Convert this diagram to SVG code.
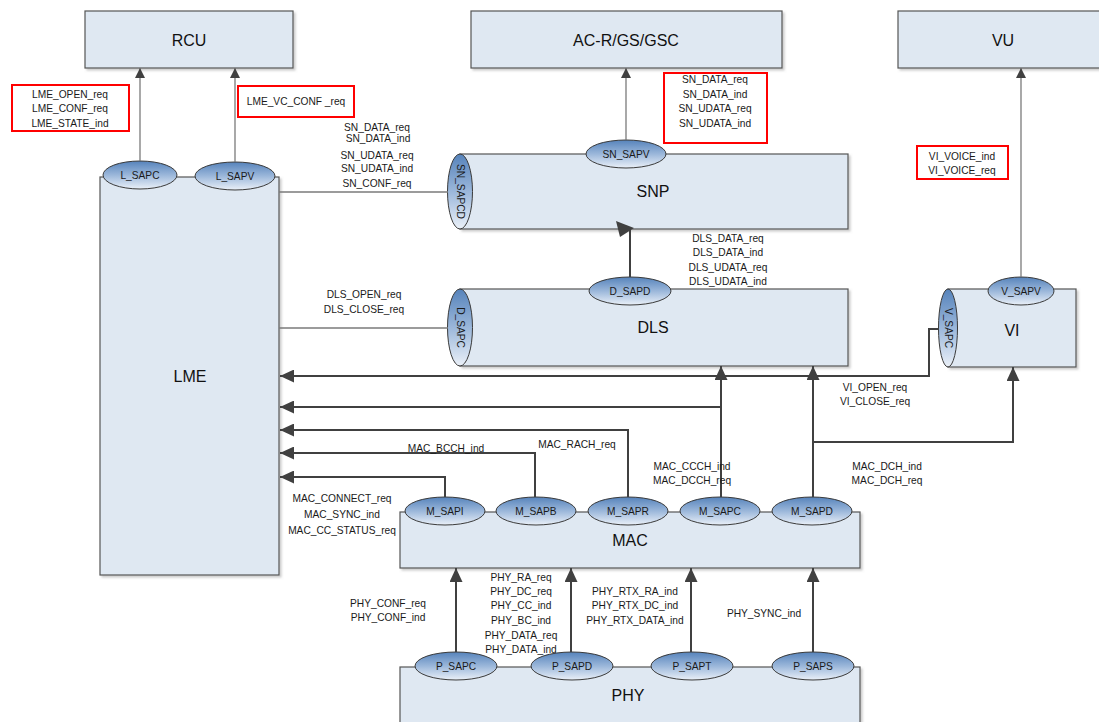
<svg xmlns="http://www.w3.org/2000/svg" width="1099" height="722" viewBox="0 0 1099 722">
<defs>
<style>
.box{fill:#dfe8f2;stroke:#555555;stroke-width:1.2;filter:url(#sh)}
.sap{fill:url(#eg);stroke:#3a3a3a;stroke-width:1}
.t{font-family:"Liberation Sans",Arial,sans-serif;font-size:10.2px;fill:#1a1a1a;text-anchor:middle}
.big{font-family:"Liberation Sans",Arial,sans-serif;font-size:16px;fill:#111;text-anchor:middle}
.red{fill:#fff;stroke:#ff0000;stroke-width:2}
.thin{fill:none;stroke:#7a7a7a;stroke-width:1.3}
.thick{fill:none;stroke:#404040;stroke-width:2}
</style>
<linearGradient id="eg" x1="0" y1="0" x2="0" y2="1">
<stop offset="0" stop-color="#5683bb"/>
<stop offset="0.5" stop-color="#9bb7da"/>
<stop offset="1" stop-color="#eaf0f8"/>
</linearGradient>
<filter id="sh" x="-5%" y="-5%" width="115%" height="115%">
<feDropShadow dx="2" dy="2" stdDeviation="1" flood-color="#9a9a9a" flood-opacity="0.5"/>
</filter>
<marker id="ah" viewBox="0 0 14 13" refX="14" refY="6.5" markerWidth="14" markerHeight="13" orient="auto" markerUnits="userSpaceOnUse">
<path d="M0,0 L14,6.5 L0,13 z" fill="#404040"/>
</marker>
<marker id="ahs" viewBox="0 0 10 10" refX="10" refY="5" markerWidth="10" markerHeight="10" orient="auto" markerUnits="userSpaceOnUse">
<path d="M0,0 L10,5 L0,10 z" fill="#404040"/>
</marker>
</defs>
<rect width="1099" height="722" fill="#fff"/>

<g id="RCU">
<rect class="box" x="85" y="11" width="208" height="57"/>
<text class="big" x="189" y="46">RCU</text>
</g>
<g id="ACR">
<rect class="box" x="471" y="11" width="311" height="57"/>
<text class="big" x="626" y="46">AC-R/GS/GSC</text>
</g>
<g id="VU">
<rect class="box" x="898" y="11" width="215" height="57"/>
<text class="big" x="1003" y="46">VU</text>
</g>

<g id="LME">
<rect class="box" x="100" y="177" width="179" height="398"/>
<text class="big" x="190" y="382">LME</text>
<ellipse class="sap" cx="140" cy="175" rx="37" ry="14"/>
<text class="t" x="140" y="178.5">L_SAPC</text>
<ellipse class="sap" cx="235" cy="176" rx="40" ry="14"/>
<text class="t" x="235" y="179.5">L_SAPV</text>
</g>

<g id="SNP">
<rect class="box" x="460" y="154" width="388" height="75"/>
<text class="big" x="653" y="197">SNP</text>
<ellipse class="sap" cx="460" cy="191.5" rx="12.5" ry="37.5"/>
<text class="t" transform="translate(460,191.5) rotate(90)" x="0" y="3.5">SN_SAPCD</text>
<ellipse class="sap" cx="626" cy="154" rx="40" ry="14"/>
<text class="t" x="626" y="157.5">SN_SAPV</text>
</g>

<g id="DLS">
<rect class="box" x="460" y="289" width="388" height="77"/>
<text class="big" x="653" y="333">DLS</text>
<ellipse class="sap" cx="460" cy="327.5" rx="12.5" ry="38.5"/>
<text class="t" transform="translate(460,327.5) rotate(90)" x="0" y="3.5">D_SAPC</text>
<ellipse class="sap" cx="630" cy="291" rx="41" ry="14"/>
<text class="t" x="630" y="294.5">D_SAPD</text>
</g>

<g id="VI">
<rect class="box" x="948" y="289" width="128" height="78"/>
<text class="big" x="1012" y="336">VI</text>
<ellipse class="sap" cx="948" cy="328" rx="9.5" ry="39"/>
<text class="t" transform="translate(948,328) rotate(90)" x="0" y="3.5">V_SAPC</text>
<ellipse class="sap" cx="1021" cy="291" rx="33" ry="14"/>
<text class="t" x="1021" y="294.5">V_SAPV</text>
</g>

<g id="MAC">
<rect class="box" x="400" y="512" width="460" height="56"/>
<text class="big" x="630" y="546">MAC</text>
<ellipse class="sap" cx="445" cy="511" rx="40" ry="14"/>
<text class="t" x="445" y="514.5">M_SAPI</text>
<ellipse class="sap" cx="536" cy="511" rx="40" ry="14"/>
<text class="t" x="536" y="514.5">M_SAPB</text>
<ellipse class="sap" cx="628" cy="511" rx="40" ry="14"/>
<text class="t" x="628" y="514.5">M_SAPR</text>
<ellipse class="sap" cx="720" cy="511" rx="40" ry="14"/>
<text class="t" x="720" y="514.5">M_SAPC</text>
<ellipse class="sap" cx="812" cy="511" rx="40" ry="14"/>
<text class="t" x="812" y="514.5">M_SAPD</text>
</g>

<g id="PHY">
<rect class="box" x="400" y="667" width="460" height="70"/>
<text class="big" x="628" y="701">PHY</text>
<ellipse class="sap" cx="456" cy="666" rx="41" ry="14"/>
<text class="t" x="456" y="669.5">P_SAPC</text>
<ellipse class="sap" cx="572" cy="666" rx="41" ry="14"/>
<text class="t" x="572" y="669.5">P_SAPD</text>
<ellipse class="sap" cx="692" cy="666" rx="41" ry="14"/>
<text class="t" x="692" y="669.5">P_SAPT</text>
<ellipse class="sap" cx="813" cy="666" rx="41" ry="14"/>
<text class="t" x="813" y="669.5">P_SAPS</text>
</g>

<g id="connectors">
<path class="thin" d="M140,161 L140,68" marker-end="url(#ahs)"/>
<path class="thin" d="M235,162 L235,68" marker-end="url(#ahs)"/>
<path class="thin" d="M626,140 L626,68" marker-end="url(#ahs)"/>
<path class="thin" d="M1021,277 L1021,68" marker-end="url(#ahs)"/>
<path class="thin" d="M279,192 L448,192"/>
<path class="thin" d="M279,328 L448,328"/>
<path class="thick" d="M630,277 L630,229"/>
<polygon points="616,221 634,228 620,237" fill="#404040"/>
<path class="thick" d="M939,329 L929,329 L929,376 L280,376" marker-end="url(#ah)"/>
<path class="thick" d="M721,497 L721,366" marker-end="url(#ah)"/>
<path class="thick" d="M813,497 L813,366" marker-end="url(#ah)"/>
<path class="thick" d="M721,407 L280,407" marker-end="url(#ah)"/>
<path class="thick" d="M628,497 L628,430 L280,430" marker-end="url(#ah)"/>
<path class="thick" d="M535,497 L535,453 L280,453" marker-end="url(#ah)"/>
<path class="thick" d="M445,497 L445,477 L280,477" marker-end="url(#ah)"/>
<path class="thick" d="M813,442 L1013,442 L1013,367" marker-end="url(#ah)"/>
<path class="thick" d="M456,652 L456,568" marker-end="url(#ah)"/>
<path class="thick" d="M571,652 L571,568" marker-end="url(#ah)"/>
<path class="thick" d="M691,652 L691,568" marker-end="url(#ah)"/>
<path class="thick" d="M813,652 L813,568" marker-end="url(#ah)"/>
</g>

<g id="labels">
<rect class="red" x="12" y="85" width="117" height="46"/>
<text class="t" x="70" y="97.5">LME_OPEN_req</text>
<text class="t" x="70" y="111.5">LME_CONF_req</text>
<text class="t" x="70" y="126.5">LME_STATE_ind</text>
<rect class="red" x="238" y="86" width="116" height="31"/>
<text class="t" x="296" y="104.5">LME_VC_CONF _req</text>
<rect class="red" x="664" y="73" width="103" height="70"/>
<text class="t" x="715" y="82.5">SN_DATA_req</text>
<text class="t" x="715" y="97.5">SN_DATA_ind</text>
<text class="t" x="715" y="111.5">SN_UDATA_req</text>
<text class="t" x="715" y="126.5">SN_UDATA_ind</text>
<rect class="red" x="917" y="146" width="91" height="33"/>
<text class="t" x="962" y="159.5">VI_VOICE_ind</text>
<text class="t" x="962" y="173.5">VI_VOICE_req</text>

<text class="t" x="377" y="130.5">SN_DATA_req</text>
<text class="t" x="378" y="141.5">SN_DATA_ind</text>
<text class="t" x="377" y="158.5">SN_UDATA_req</text>
<text class="t" x="377" y="171.5">SN_UDATA_ind</text>
<text class="t" x="377" y="186.5">SN_CONF_req</text>

<text class="t" x="728" y="241.5">DLS_DATA_req</text>
<text class="t" x="728" y="255.5">DLS_DATA_ind</text>
<text class="t" x="728" y="270.5">DLS_UDATA_req</text>
<text class="t" x="728" y="284.5">DLS_UDATA_ind</text>

<text class="t" x="364" y="297.5">DLS_OPEN_req</text>
<text class="t" x="364" y="312.5">DLS_CLOSE_req</text>

<text class="t" x="875" y="390.5">VI_OPEN_req</text>
<text class="t" x="875" y="404.5">VI_CLOSE_req</text>

<text class="t" x="446" y="451.5">MAC_BCCH_ind</text>
<text class="t" x="577" y="447.5">MAC_RACH_req</text>
<text class="t" x="692" y="469.5">MAC_CCCH_ind</text>
<text class="t" x="692" y="483.5">MAC_DCCH_req</text>
<text class="t" x="887" y="469.5">MAC_DCH_ind</text>
<text class="t" x="887" y="483.5">MAC_DCH_req</text>

<text class="t" x="342" y="501.5">MAC_CONNECT_req</text>
<text class="t" x="342" y="517.5">MAC_SYNC_ind</text>
<text class="t" x="342" y="533.5">MAC_CC_STATUS_req</text>

<text class="t" x="388" y="606.5">PHY_CONF_req</text>
<text class="t" x="388" y="620.5">PHY_CONF_ind</text>
<text class="t" x="521" y="580.5">PHY_RA_req</text>
<text class="t" x="521" y="594.5">PHY_DC_req</text>
<text class="t" x="521" y="608.5">PHY_CC_ind</text>
<text class="t" x="521" y="623.5">PHY_BC_ind</text>
<text class="t" x="521" y="638.5">PHY_DATA_req</text>
<text class="t" x="521" y="652.5">PHY_DATA_ind</text>
<text class="t" x="635" y="594.5">PHY_RTX_RA_ind</text>
<text class="t" x="635" y="608.5">PHY_RTX_DC_ind</text>
<text class="t" x="635" y="623.5">PHY_RTX_DATA_ind</text>
<text class="t" x="764" y="616.5">PHY_SYNC_ind</text>
</g>
</svg>
